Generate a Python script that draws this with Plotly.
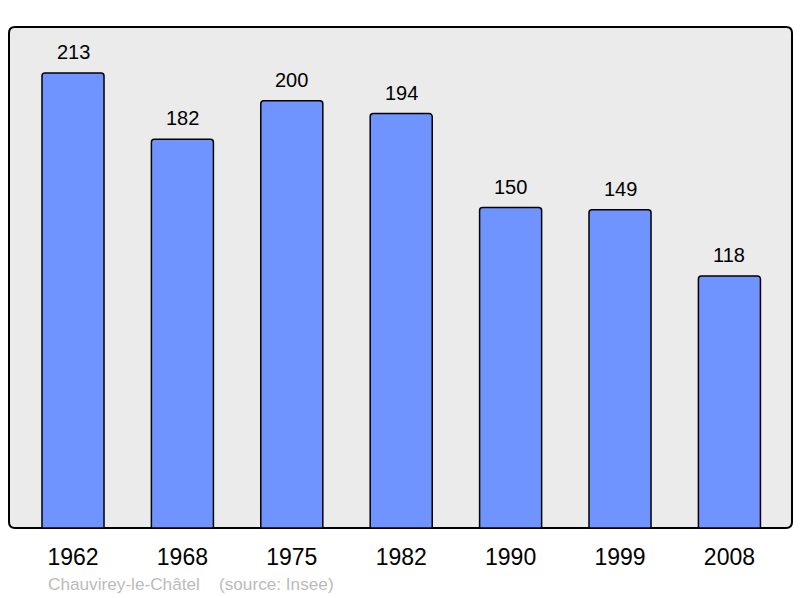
import plotly.graph_objects as go

years = ["1962", "1968", "1975", "1982", "1990", "1999", "2008"]
population = [213, 182, 200, 194, 150, 149, 118]
caption = "Chauvirey-le-Châtel    (source: Insee)"

W, H = 800, 598
ml, mr, mt, mb = 9, 8, 27, 70
FONT = "Liberation Sans, Arial, sans-serif"

fig = go.Figure()
fig.add_trace(go.Bar(
    x=years, y=population,
    marker=dict(color="#7094ff", line=dict(color="#000000", width=1.5), cornerradius=3),
    width=0.567,
    hoverinfo="skip",
))

# category axis: annotation x given as category index
for i, v in enumerate(population):
    fig.add_annotation(x=i, y=v, xref="x", yref="y", text=str(v), showarrow=False, yanchor="bottom",
                       yshift=8, font=dict(size=20, color="#000000", family=FONT))

fig.add_annotation(xref="paper", yref="paper", x=(46 - ml) / (W - ml - mr), y=-(584 - (H - mb)) / (H - mt - mb),
                   xanchor="left", yanchor="middle",
                   text=caption.replace("    ", "&nbsp;&nbsp;&nbsp;&nbsp;"), showarrow=False,
                   font=dict(size=17.2, color="#bbbbbb", family=FONT))

# rounded frame
pw, ph = W - ml - mr, H - mt - mb
r = 6
rx, ry = r / pw, r / ph
path = (f"M {rx},0 L {1-rx},0 Q 1,0 1,{ry} L 1,{1-ry} Q 1,1 {1-rx},1 L {rx},1 Q 0,1 0,{1-ry} "
        f"L 0,{ry} Q 0,0 {rx},0 Z")
fig.add_shape(type="path", xref="paper", yref="paper", path=path,
              line=dict(color="#000000", width=2), fillcolor="#ebebeb", layer="below")

fig.update_layout(
    width=W, height=H,
    margin=dict(l=ml, r=mr, t=mt, b=mb),
    paper_bgcolor="#ffffff", plot_bgcolor="rgba(0,0,0,0)",
    showlegend=False,
    xaxis=dict(type="category", range=[-0.585, 6.572], showgrid=False, zeroline=False, showline=False,
               ticks="outside", ticklen=8, tickcolor="rgba(0,0,0,0)",
               tickfont=dict(size=23, color="#000000", family=FONT)),
    yaxis=dict(range=[0, 234.5], showgrid=False, zeroline=False, showline=False, showticklabels=False),
)

fig.write_html("out.html", config={"displayModeBar": False},
               post_script="document.body.style.margin='0';document.body.style.overflow='hidden';")
